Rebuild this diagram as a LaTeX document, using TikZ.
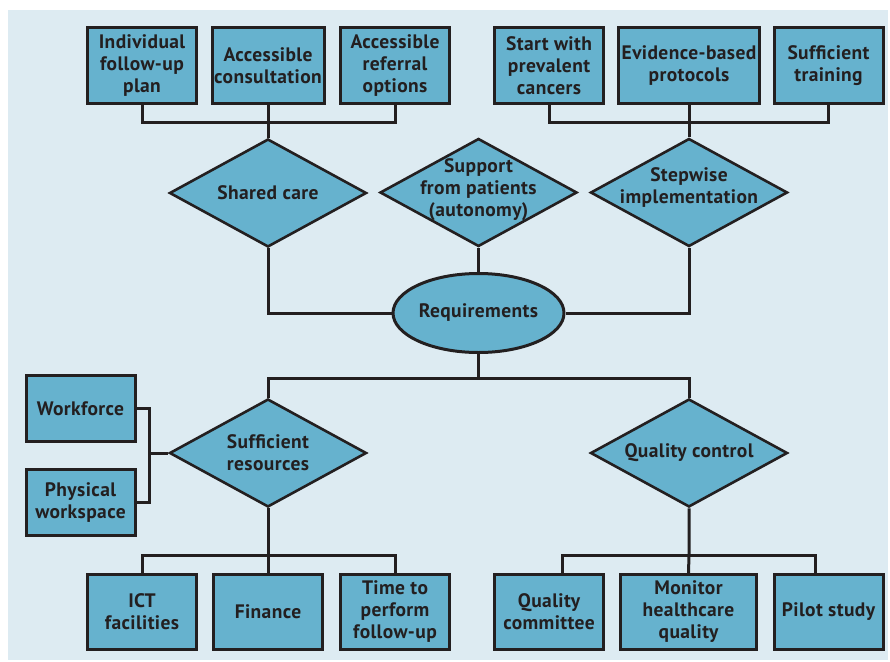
\documentclass[tikz,border=0pt]{standalone}
\usepackage{fontspec}
\setmainfont{PT Sans}[LetterSpace=2]
\usetikzlibrary{shapes.geometric}
\definecolor{bgblue}{HTML}{DDEBF2}
\definecolor{boxblue}{HTML}{66B2CE}
\definecolor{ink}{HTML}{231F20}

\begin{document}
\begin{tikzpicture}[x=1pt, y=-1pt,
    every node/.style={font=\fontsize{19.5}{22}\selectfont\bfseries, text=ink, align=center},
    box/.style={draw=ink, fill=boxblue, line width=3pt, minimum width=109pt,
        minimum height=75pt, inner sep=0pt},
    dia/.style={diamond, draw=ink, fill=boxblue, line width=2.6pt,
        minimum width=197pt, minimum height=108pt, inner sep=0pt},
    link/.style={draw=ink, line width=3pt}]
    \useasboundingbox (0,0) rectangle (890,661);
    \fill[bgblue] (8,10) rectangle (888,660);

    % top row
    \node[box] (ind) at (142,65.5) {Individual\\follow-up\\plan};
    \node[box, minimum width=112pt] (acon) at (268,65.5) {Accessible\\consultation};
    \node[box] (aref) at (395,65.5) {Accessible\\referral\\options};
    \node[box] (start) at (549,65.5) {Start with\\prevalent\\cancers};
    \node[box, minimum width=141pt] (evid) at (689,65.5) {Evidence-based\\protocols};
    \node[box] (train) at (828.5,65.5) {Sufficient\\training};

    % diamonds and centre
    \node[dia, label={center:Shared care}] (shared) at (268,193) {};
    \node[dia, label={[yshift=2.5pt]center:Support\\from patients\\(autonomy)}] (support) at (478.5,192.5) {};
    \node[dia, label={[yshift=5pt]center:Stepwise\\implementation}] (stepwise) at (689,192.5) {};
    \node[ellipse, draw=ink, fill=boxblue, line width=3pt, minimum width=171pt,
        minimum height=79pt, inner sep=0pt] (req) at (478.5,313) {Requirements};
    \node[dia, label={center:Sufficient\\resources}] (sufres) at (268,453) {};
    \node[dia, label={center:Quality control}] (qual) at (689,453) {};

    % side boxes
    \node[box, minimum height=66pt] (work) at (80.5,408.5) {Workforce};
    \node[box, minimum height=66pt] (phys) at (80.5,502.5) {Physical\\workspace};

    % bottom row
    \node[box] (ict) at (142,612) {ICT\\facilities};
    \node[box] (fin) at (268,612) {Finance};
    \node[box] (time) at (395,612) {Time to\\perform\\follow-up};
    \node[box] (qcom) at (549,612) {Quality\\committee};
    \node[box, minimum width=136pt] (mon) at (688.5,612) {Monitor\\healthcare\\quality};
    \node[box] (pilot) at (828.5,612) {Pilot study};

    \coordinate (topL) at (268,122);
    \coordinate (topR) at (689,122);
    \coordinate (midB) at (478.5,378);
    \coordinate (sideB) at (149,453);
    \coordinate (botL) at (268,555);
    \coordinate (botR) at (689,555);

    \draw[link] (ind.south) |- (topL) -| (aref.south);
    \draw[link] (acon.south) -- (shared.north);
    \draw[link] (start.south) |- (topR) -| (train.south);
    \draw[link] (evid.south) -- (stepwise.north);
    \draw[link] (shared.south) |- (req.west);
    \draw[link] (stepwise.south) |- (req.east);
    \draw[link] (support.south) -- (req.north);
    \draw[link] (req.south) -- (midB);
    \draw[link] (sufres.north) |- (midB) -| (qual.north);
    \draw[link] (work.east) -| (sideB) |- (phys.east);
    \draw[link] (sideB) -- (sufres.west);
    \draw[link] (sufres.south) -- (botL);
    \draw[link] (ict.north) |- (botL) -| (time.north);
    \draw[link] (fin.north) -- (botL);
    \draw[link] (qual.south) -- (botR) -- (mon.north);
    \draw[link] ([xshift=13pt]qcom.north) |- (botR) -| ([xshift=-13pt]pilot.north);
\end{tikzpicture}
\end{document}
